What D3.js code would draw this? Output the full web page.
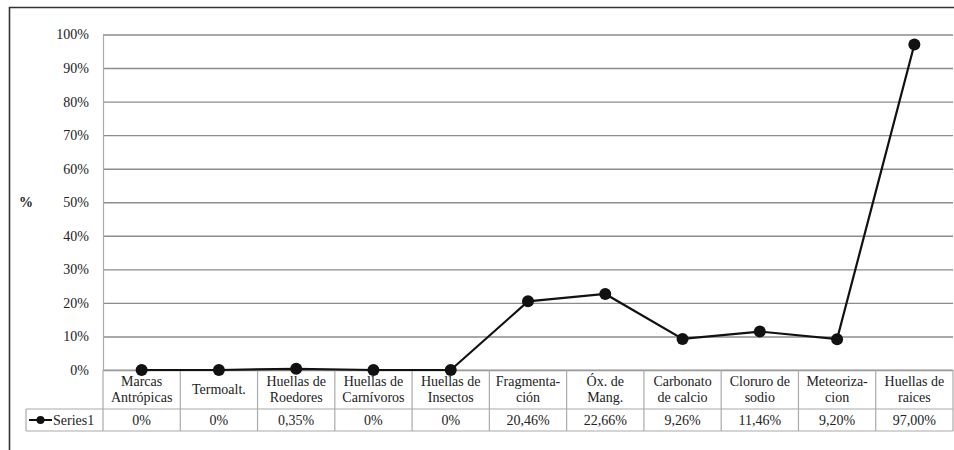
<!DOCTYPE html>
<html>
<head>
<meta charset="utf-8">
<script src="https://cdn.jsdelivr.net/npm/d3@7/dist/d3.min.js"></script>
<style>
  html, body { margin: 0; padding: 0; background: #fff; }
  svg { display: block; }
  svg text { font-family: "Liberation Serif", "Tinos", "DejaVu Serif", "Noto Serif", serif; fill: #222; }
</style>
</head>
<body>
<svg id="chart" width="954" height="450"></svg>
<script>
// Category labels (line-broken as in the data table)
const categories = [
  ["Marcas", "Antrópicas"],
  ["Termoalt."],
  ["Huellas de", "Roedores"],
  ["Huellas de", "Carnívoros"],
  ["Huellas de", "Insectos"],
  ["Fragmenta-", "ción"],
  ["Óx. de", "Mang."],
  ["Carbonato", "de calcio"],
  ["Cloruro de", "sodio"],
  ["Meteoriza-", "cion"],
  ["Huellas de", "raices"]
];
// Series1 values in percent
const series1 = [0, 0, 0.35, 0, 0, 20.46, 22.66, 9.26, 11.46, 9.20, 97.00];
// Value labels shown in the data table
const valueLabels = ["0%", "0%", "0,35%", "0%", "0%", "20,46%", "22,66%", "9,26%", "11,46%", "9,20%", "97,00%"];
const seriesName = "Series1";
const yTicks = [0, 10, 20, 30, 40, 50, 60, 70, 80, 90, 100];
const yTitle = "%";

const svg = d3.select("#chart");
const plot = { left: 103, right: 953, top: 34.5, bottom: 370 };
const tableRow1 = 409, tableRow2 = 431, legendLeft = 26;

const x = d3.scaleBand()
  .domain(d3.range(categories.length))
  .range([plot.left, plot.right])
  .paddingInner(0).paddingOuter(0);
const y = d3.scaleLinear().domain([0, 100]).range([plot.bottom, plot.top]);

// Outer frame (top and left edges)
svg.append("path")
  .attr("d", `M9.5,450 V7.5 H954`)
  .attr("fill", "none").attr("stroke", "#333").attr("stroke-width", 1.6);

// Gridlines
const grid = svg.append("g")
  .attr("transform", `translate(${plot.left},0)`)
  .call(d3.axisLeft(y).tickValues(yTicks).tickSize(-(plot.right - plot.left)).tickFormat(""));
grid.select(".domain").remove();
grid.selectAll(".tick line").attr("stroke", "#8c8c8c").attr("stroke-width", 1.4);

// Y axis labels
const yAxis = svg.append("g")
  .attr("transform", `translate(${plot.left},0)`)
  .call(d3.axisLeft(y).tickValues(yTicks).tickSize(0).tickPadding(14).tickFormat(d => d + "%"));
yAxis.attr("font-family", null).attr("font-size", 14);
yAxis.select(".domain").attr("stroke", "#aaa").attr("stroke-width", 1.2);
yAxis.selectAll(".tick text").attr("fill", "#222");

// Axis title
svg.append("text")
  .attr("x", 26).attr("y", 202).attr("dy", "0.35em")
  .attr("text-anchor", "middle").attr("font-size", 14).attr("font-weight", "bold")
  .text(yTitle);

// Data table grid
const tbl = svg.append("g").attr("stroke", "#aaa").attr("stroke-width", 1.2).attr("fill", "none");
tbl.append("line").attr("x1", plot.left).attr("x2", plot.right).attr("y1", plot.bottom).attr("y2", plot.bottom);
tbl.append("line").attr("x1", legendLeft).attr("x2", plot.right).attr("y1", tableRow1).attr("y2", tableRow1);
tbl.append("line").attr("x1", legendLeft).attr("x2", plot.right).attr("y1", tableRow2).attr("y2", tableRow2);
tbl.append("line").attr("x1", legendLeft).attr("x2", legendLeft).attr("y1", tableRow1).attr("y2", tableRow2);
tbl.append("line").attr("x1", plot.left).attr("x2", plot.left).attr("y1", plot.bottom).attr("y2", tableRow2);
tbl.selectAll(".col").data(d3.range(1, categories.length + 1)).join("line")
  .attr("x1", i => i < categories.length ? x(i) : plot.right)
  .attr("x2", i => i < categories.length ? x(i) : plot.right)
  .attr("y1", plot.bottom).attr("y2", tableRow2);

// Category labels
const catG = svg.append("g").attr("font-size", 14).attr("text-anchor", "middle");
categories.forEach((lines, i) => {
  const cx = x(i) + x.bandwidth() / 2;
  const t = catG.append("text").attr("x", cx);
  if (lines.length === 1) {
    t.attr("y", (plot.bottom + tableRow1) / 2).attr("dy", "0.35em").text(lines[0]);
  } else {
    lines.forEach((ln, k) => {
      t.append("tspan").attr("x", cx).attr("y", 386 + k * 16).text(ln);
    });
  }
});

// Value row
svg.append("g").attr("font-size", 14).attr("text-anchor", "middle")
  .selectAll("text").data(valueLabels).join("text")
  .attr("x", (d, i) => x(i) + x.bandwidth() / 2)
  .attr("y", 425)
  .text(d => d);

// Legend key in the table
const legY = (tableRow1 + tableRow2) / 2;
svg.append("line").attr("x1", 29).attr("x2", 52).attr("y1", legY).attr("y2", legY)
  .attr("stroke", "#111").attr("stroke-width", 2);
svg.append("circle").attr("cx", 40.5).attr("cy", legY).attr("r", 4).attr("fill", "#111");
svg.append("text").attr("x", 53).attr("y", 425).attr("font-size", 14).text(seriesName);

// Series line and markers
const line = d3.line()
  .x((d, i) => x(i) + x.bandwidth() / 2)
  .y(d => y(d));
svg.append("path").datum(series1)
  .attr("d", line).attr("fill", "none").attr("stroke", "#111").attr("stroke-width", 2.2);
svg.append("g").selectAll("circle").data(series1).join("circle")
  .attr("cx", (d, i) => x(i) + x.bandwidth() / 2)
  .attr("cy", d => y(d))
  .attr("r", 6).attr("fill", "#111");
</script>
</body>
</html>
